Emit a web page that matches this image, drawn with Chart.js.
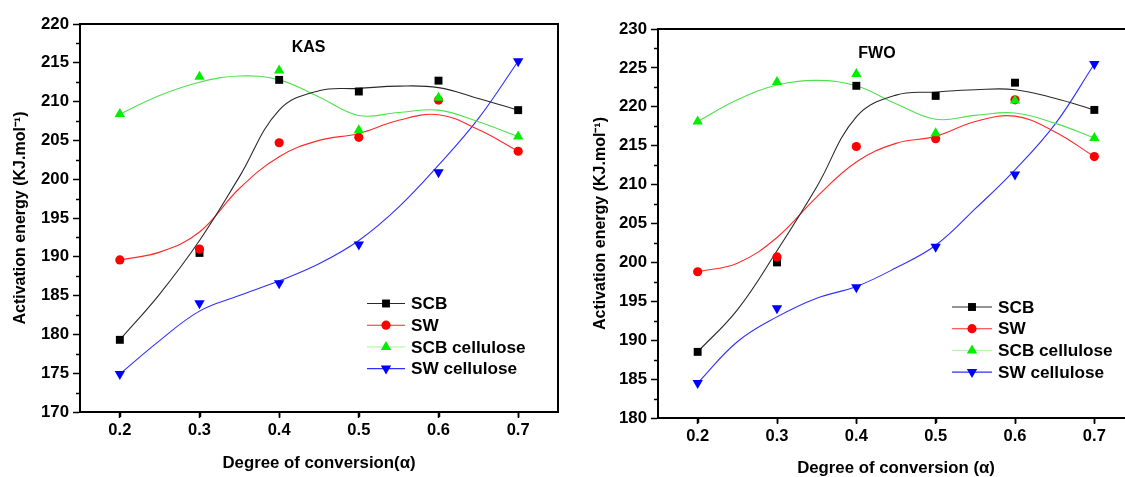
<!DOCTYPE html>
<html>
<head>
<meta charset="utf-8">
<script src="https://cdn.jsdelivr.net/npm/chart.js@4.4.1/dist/chart.umd.min.js"></script>
<style>
  html, body { margin: 0; padding: 0; background: #fff; width: 1125px; height: 477px; overflow: hidden; }
  .panel { position: absolute; top: 0; }
  #panelKAS { left: 0; width: 565px; height: 477px; }
  #panelFWO { left: 565px; width: 575px; height: 477px; }
</style>
</head>
<body>
<div class="panel" id="panelKAS"><canvas id="kas" width="565" height="477"></canvas></div>
<div class="panel" id="panelFWO"><canvas id="fwo" width="575" height="477"></canvas></div>
<script>
// Degree of conversion (alpha) where activation energy was evaluated
const conversion = [0.2, 0.3, 0.4, 0.5, 0.6, 0.7];
// Sampling positions of the smoothed trend lines
const curveConversion = [0.2, 0.25, 0.3, 0.35, 0.4, 0.45, 0.5, 0.55, 0.6, 0.65, 0.7];
const seriesNames = ['SCB', 'SW', 'SCB cellulose', 'SW cellulose'];
const xTickValues = [0.2, 0.3, 0.4, 0.5, 0.6, 0.7];

// KAS method, activation energy (kJ/mol)
const kasSCB          = [179.3, 190.5, 212.8, 211.3, 212.7, 208.9];
const kasSW           = [189.6, 191.0, 204.7, 205.4, 210.2, 203.6];
const kasSCBCellulose = [208.4, 213.2, 214.0, 206.3, 210.5, 205.5];
const kasSWCellulose  = [174.9, 184.0, 186.6, 191.6, 200.9, 215.2];
// KAS smoothed trend lines
const kasSCBCurve          = [179.3, 185.2, 192.1, 200.3, 208.9, 211.4, 211.7, 212.0, 211.8, 210.4, 208.9];
const kasSWCurve           = [189.6, 190.6, 193.2, 198.8, 202.9, 205.0, 205.9, 207.6, 208.3, 206.4, 203.6];
const kasSCBCelluloseCurve = [208.4, 210.8, 212.5, 213.3, 212.8, 210.6, 208.2, 208.6, 208.9, 207.4, 205.5];
const kasSWCelluloseCurve  = [174.9, 179.2, 183.0, 185.0, 186.9, 189.1, 192.1, 196.4, 201.8, 207.8, 215.2];

// FWO method, activation energy (kJ/mol)
const fwoSCB          = [188.5, 200.0, 222.7, 221.4, 223.1, 219.6];
const fwoSW           = [198.8, 200.7, 214.9, 215.9, 220.9, 213.6];
const fwoSCBCellulose = [218.1, 223.2, 224.2, 216.6, 220.8, 216.0];
const fwoSWCellulose  = [184.5, 194.1, 196.8, 202.0, 211.3, 225.5];
// FWO smoothed trend lines
const fwoSCBCurve          = [188.5, 193.9, 201.5, 209.7, 218.7, 221.5, 221.9, 222.2, 222.2, 221.1, 219.6];
const fwoSWCurve           = [198.8, 199.9, 203.2, 208.4, 212.9, 215.3, 216.2, 218.1, 218.8, 216.8, 213.6];
const fwoSCBCelluloseCurve = [218.1, 220.9, 222.8, 223.4, 222.7, 220.4, 218.4, 218.9, 219.2, 217.9, 216.0];
const fwoSWCelluloseCurve  = [184.5, 189.8, 193.0, 195.4, 196.9, 199.3, 202.2, 206.9, 211.9, 217.7, 225.5];

const FONT = '"Liberation Sans", Arial, Helvetica, sans-serif';

// marker / line style per series
const styles = [
  { marker: '#000000', line: '#2a2a2a', legendLine: '#2a2a2a', pointStyle: 'rect',     radius: 5.6, rotation: 0 },
  { marker: '#ff0000', line: '#ff2a2a', legendLine: '#ff2a2a', pointStyle: 'circle',   radius: 4.6, rotation: 0 },
  { marker: '#00ee00', line: '#50e050', legendLine: '#b8f4b8', pointStyle: 'triangle', radius: 6.0, rotation: 0 },
  { marker: '#0000ff', line: '#3030ff', legendLine: '#3030ff', pointStyle: 'triangle', radius: 6.0, rotation: 180 }
];

function toPoints(xs, ys) { return xs.map((x, i) => ({ x: x, y: ys[i] })); }

function buildDatasets(markerSeries, curveSeries) {
  const sets = [];
  markerSeries.forEach((vals, i) => {
    const s = styles[i];
    sets.push({
      label: seriesNames[i],
      data: toPoints(conversion, vals),
      showLine: false,
      pointStyle: s.pointStyle,
      pointRotation: s.rotation,
      pointRadius: s.radius,
      pointBackgroundColor: s.marker,
      pointBorderColor: s.marker,
      pointBorderWidth: 0,
      order: 4 - i
    });
  });
  curveSeries.forEach((vals, i) => {
    const s = styles[i];
    sets.push({
      label: seriesNames[i] + ' trend',
      data: toPoints(curveConversion, vals),
      showLine: true,
      borderColor: s.line,
      borderWidth: 1.1,
      pointRadius: 0,
      tension: 0.4,
      fill: false,
      order: 10 + i
    });
  });
  return sets;
}

// Frame, minor ticks, panel label and line+symbol legend
const originStyle = {
  id: 'originStyle',
  afterDraw(chart, args, opts) {
    const { ctx, chartArea: a, scales: { x, y } } = chart;
    ctx.save();
    // minor ticks
    ctx.strokeStyle = '#000';
    ctx.lineWidth = 1.5;
    ctx.beginPath();
    for (let v = x.min + 0.05; v < x.max + 1e-9; v += 0.1) {
      const px = Math.round(x.getPixelForValue(v)) + 0.5;
      ctx.moveTo(px, a.bottom); ctx.lineTo(px, a.bottom + 5);
    }
    for (let v = y.min + 2.5; v < y.max; v += 5) {
      const py = Math.round(y.getPixelForValue(v)) + 0.5;
      ctx.moveTo(a.left, py); ctx.lineTo(a.left - 4, py);
    }
    ctx.stroke();
    // frame
    ctx.lineWidth = 2;
    ctx.strokeRect(a.left, a.top, a.right - a.left, a.bottom - a.top);
    // panel label
    ctx.fillStyle = '#000';
    ctx.font = 'bold 16px ' + FONT;
    ctx.textAlign = 'center';
    ctx.textBaseline = 'middle';
    ctx.fillText(opts.label, x.getPixelForValue(opts.labelAt[0]), y.getPixelForValue(opts.labelAt[1]));
    // legend
    const L = opts.legend;
    ctx.textAlign = 'left';
    ctx.font = 'bold 17.2px ' + FONT;
    seriesNames.forEach((name, i) => {
      const s = styles[i];
      const yy = L.top + i * L.row;
      ctx.strokeStyle = s.legendLine;
      ctx.lineWidth = 1.1;
      ctx.beginPath();
      ctx.moveTo(L.left, yy); ctx.lineTo(L.left + L.lineLen, yy);
      ctx.stroke();
      ctx.fillStyle = s.marker;
      ctx.strokeStyle = s.marker;
      Chart.helpers.drawPoint(ctx, { pointStyle: s.pointStyle, radius: s.radius, rotation: s.rotation, borderWidth: 0 },
        L.left + L.lineLen / 2, yy);
      ctx.fillStyle = '#000';
      ctx.fillText(name, L.left + L.lineLen + 6, yy + 1);
    });
    ctx.restore();
  }
};

function makeChart(canvasId, cfg) {
  return new Chart(document.getElementById(canvasId), {
    type: 'scatter',
    data: { datasets: buildDatasets(cfg.markers, cfg.curves) },
    options: {
      responsive: false,
      devicePixelRatio: 1,
      animation: false,
      events: [],
      layout: { padding: { left: 0, right: cfg.padRight, top: cfg.padTop, bottom: 0 } },
      plugins: {
        legend: { display: false },
        tooltip: { enabled: false },
        originStyle: { label: cfg.label, labelAt: cfg.labelAt, legend: cfg.legend }
      },
      scales: {
        x: {
          type: 'linear',
          min: 0.15, max: 0.75,
          afterBuildTicks(scale) { scale.ticks = xTickValues.map(v => ({ value: v })); },
          afterFit(scale) { scale.height = cfg.xHeight; },
          ticks: {
            color: '#000', padding: 3,
            font: { family: FONT, size: 16.5, weight: 'bold' },
            callback: v => Number(v).toFixed(1),
            maxRotation: 0
          },
          grid: { drawOnChartArea: false, drawTicks: true, tickLength: 6, tickWidth: 1.5, tickColor: '#000' },
          border: { display: true, color: '#000', width: 2 },
          title: {
            display: true, text: cfg.xTitle, color: '#000',
            font: { family: FONT, size: 16.8, weight: 'bold', lineHeight: 1 },
            padding: { top: 0, bottom: cfg.xTitlePad }
          }
        },
        y: {
          type: 'linear',
          min: cfg.yMin, max: cfg.yMax,
          afterFit(scale) { scale.width = cfg.yWidth; },
          ticks: {
            stepSize: 5, color: '#000', padding: 4,
            font: { family: FONT, size: 16.8, weight: 'bold' }
          },
          grid: { drawOnChartArea: false, drawTicks: true, tickLength: 7, tickWidth: 1.5, tickColor: '#000' },
          border: { display: true, color: '#000', width: 2 },
          title: {
            display: true, text: 'Activation energy (KJ.mol\u207B\u00B9)', color: '#000',
            font: { family: FONT, size: 16, weight: 'bold' },
            padding: { top: cfg.yTitlePad, bottom: 0 }
          }
        }
      }
    },
    plugins: [originStyle]
  });
}

makeChart('kas', {
  markers: [kasSCB, kasSW, kasSCBCellulose, kasSWCellulose],
  curves: [kasSCBCurve, kasSWCurve, kasSCBCelluloseCurve, kasSWCelluloseCurve],
  yMin: 170, yMax: 220,
  padTop: 24, padRight: 7, yWidth: 80, xHeight: 65,
  xTitle: 'Degree of conversion(\u03B1)', xTitlePad: 5.5, yTitlePad: 11,
  label: 'KAS', labelAt: [0.437, 217.0],
  legend: { left: 367, top: 303.5, row: 21.7, lineLen: 38 }
});

makeChart('fwo', {
  markers: [fwoSCB, fwoSW, fwoSCBCellulose, fwoSWCellulose],
  curves: [fwoSCBCurve, fwoSWCurve, fwoSCBCelluloseCurve, fwoSWCelluloseCurve],
  yMin: 180, yMax: 230,
  padTop: 29, padRight: 4, yWidth: 93, xHeight: 59,
  xTitle: 'Degree of conversion (\u03B1)', xTitlePad: 0, yTitlePad: 26,
  label: 'FWO', labelAt: [0.426, 226.9],
  legend: { left: 387, top: 307, row: 21.7, lineLen: 40 }
});
</script>
</body>
</html>
